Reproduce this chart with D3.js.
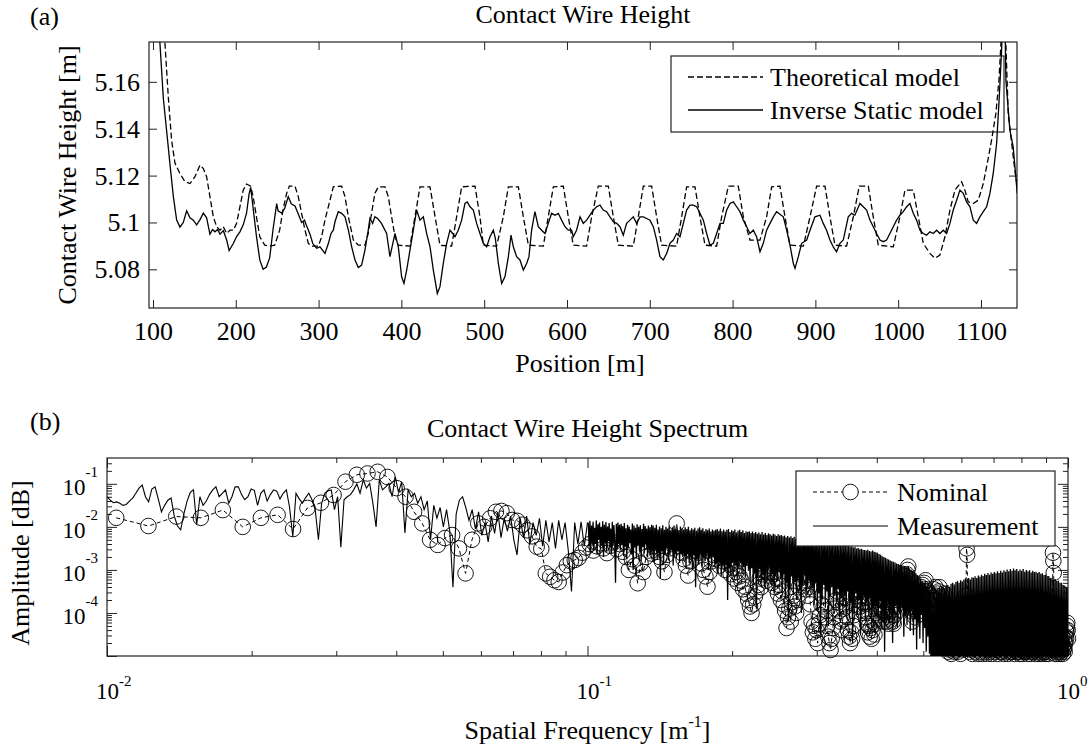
<!DOCTYPE html>
<html><head><meta charset="utf-8">
<script src="https://cdn.jsdelivr.net/npm/d3@7"></script>
<style>
body{margin:0;background:#fff}
svg{display:block}
text{font-family:"Liberation Serif","Times New Roman",serif;fill:#000}
</style>
</head><body>
<svg id="c" width="1090" height="753"></svg>
<script>
// ---------------- DATA: panel (a) ----------------
const positionTicks = [100,200,300,400,500,600,700,800,900,1000,1100];
const heightTicks = [5.08,5.10,5.12,5.14,5.16];
const heightTickLabels = ["5.08","5.1","5.12","5.14","5.16"];
const seriesA = ["Theoretical model","Inverse Static model"];

const theoreticalPos = [108,114.5,118.5,122.5,126.6,132.6,138.6,144.7,150.7,156.8,160.8,164.8,168.8,172.9,176.9,180.9,184.9,189,193,197,201,205,209,213,218,221,225,229,235,241,247,253,257,261.4,264.7,271.5,275.5,279.5,283.6,287.6,291.6,299.7,303.7,307.7,313.8,317.8,327.9,331.9,336,342,348,356,360,364,368,372.1,380.2,384.2,388.2,392.3,396.3,410.4,416.4,422.5,434.6,440.7,446.6,460.7,466.7,472.8,488.9,494.9,499,515,523.1,529.2,541.3,547.3,553.4,571.4,577.4,583.5,595.6,601.6,607.6,623.7,629.8,637.8,649.9,656,662,680.1,686.1,692.2,702.3,708.3,714.3,732.4,738.5,744.5,754.6,760.6,766.7,780.8,786.8,794.9,806.9,813,821,833.1,841.1,847.2,857.2,863.3,869.3,885.5,893.5,901.5,911.6,917.6,923.6,937.7,945.8,953,963.9,969.9,976,994.1,1002.1,1008.2,1018.2,1024.3,1030.3,1038.3,1044.4,1050.4,1056.5,1062.5,1068.6,1076.6,1080.6,1084.6,1090.7,1096.7,1102.8,1107.6,1112.8,1118,1121.7,1124.1,1126.1,1128.1,1132.9,1140.9,1143.8];
const theoreticalHeight = [5.215,5.1763,5.1536,5.1351,5.1252,5.1209,5.1174,5.1166,5.1195,5.1245,5.123,5.1195,5.111,5.1024,5.0982,5.0967,5.0982,5.0953,5.0967,5.0967,5.0996,5.1067,5.1138,5.1164,5.1155,5.111,5.1024,5.0939,5.0903,5.0899,5.0903,5.0967,5.1053,5.1124,5.1155,5.1155,5.111,5.1039,5.0967,5.0911,5.0899,5.0899,5.0939,5.101,5.1095,5.1152,5.1155,5.111,5.1024,5.0925,5.0903,5.0903,5.0953,5.1039,5.1124,5.1152,5.1152,5.111,5.1024,5.0939,5.0903,5.0899,5.1024,5.1152,5.1152,5.1024,5.0903,5.0899,5.1024,5.1152,5.1155,5.1024,5.0903,5.0899,5.1024,5.1152,5.1152,5.1024,5.0903,5.0899,5.1024,5.1152,5.1155,5.1024,5.0903,5.0899,5.1024,5.1155,5.1155,5.1024,5.0903,5.0899,5.1024,5.1155,5.1155,5.1024,5.0903,5.0899,5.1024,5.1152,5.1152,5.1024,5.0903,5.0899,5.1024,5.1155,5.1155,5.1024,5.0925,5.0925,5.1024,5.1152,5.1155,5.1024,5.0903,5.0899,5.1024,5.1155,5.1155,5.1024,5.0903,5.0899,5.1024,5.1155,5.1155,5.1024,5.0903,5.0896,5.1024,5.1138,5.1138,5.1024,5.0911,5.0868,5.0847,5.0861,5.0939,5.1053,5.1138,5.1174,5.1138,5.1088,5.1081,5.1095,5.1166,5.1252,5.1351,5.1465,5.1607,5.1763,5.1962,5.1962,5.1465,5.1223,5.1152];

const inversePos = [103,108.5,112.5,116.5,120.5,124.6,128.6,132.6,136.6,140.7,144.7,148.7,152.7,156.5,160.8,164.8,168.8,172,174.9,178,181,185,189,192,197,201,205,209,213,216,218,221,225,229,233,237,241,245,249.4,251,255.4,259,263.4,267,271.5,275,279.5,283,285,289.6,293,297.7,301.7,307.7,311.8,315,317.8,319.8,323.8,327.9,331.9,336,340,344,348,352,356,360,362,365.3,368,371.3,376,382.2,386.2,392.3,396.3,400.3,403.1,406.4,412.4,416.4,418.4,422.5,426.5,430.5,434.6,438.6,443.4,446.6,450.6,454.7,458.7,461.9,464.7,468.7,472.8,476.8,479.6,482.9,486.9,490.9,494.9,499,503,507,511,513.5,517.1,521.1,525.1,529.2,532.4,535.2,539.2,543.2,547.3,551.3,554.1,557.3,561.3,565.4,569.4,573.4,577.4,581.5,585.5,589.5,593.5,597.6,601.6,605.6,607.6,611.6,615.7,619.7,623.7,627.8,631.8,635.8,639.8,643.8,647.9,651.9,656,660,664,668,672,676,680.1,684.1,688.2,692.2,696.2,700.2,704.3,708.3,712.3,716.3,720.4,724.4,728.4,732.4,736.5,740.5,744.5,748.6,752.6,756.6,760.6,764.7,768.7,772.7,776.7,780.8,784.8,788.8,792.9,796.9,800.9,804.9,808.9,813,817,821,825,829,833.1,837.1,841.1,845.2,849.2,853.2,861.3,865.3,869.3,873.4,875.4,879.4,883.4,889.5,893.5,899.5,905.5,909.5,913.5,917.6,921.6,925.6,929.7,933.7,939.7,943.7,947.7,953.8,957.8,961.9,965.9,969.9,973.9,978,982,986,990,994.1,998.1,1002.1,1006.1,1010.2,1014.2,1018.2,1022.2,1026.3,1030.3,1034.3,1038.3,1042.4,1046.4,1050.4,1054.4,1058.5,1062.5,1066.5,1070.6,1074.6,1078.6,1082.6,1086.7,1090.7,1094.7,1098.7,1102.8,1106.8,1110.8,1114.8,1118.9,1122.1,1124.9,1126.9,1128.5,1130.1,1134.9,1138.9,1143.8];
const inverseHeight = [5.2,5.176,5.153,5.139,5.125,5.111,5.101,5.098,5.1,5.105,5.102,5.101,5.099,5.101,5.104,5.102,5.095,5.097,5.096,5.097,5.095,5.0965,5.0925,5.088,5.091,5.094,5.096,5.099,5.104,5.112,5.115,5.106,5.094,5.084,5.08,5.081,5.085,5.097,5.108,5.105,5.104,5.106,5.111,5.108,5.107,5.104,5.1,5.101,5.099,5.095,5.091,5.089,5.0896,5.0868,5.091,5.0953,5.0967,5.1003,5.1046,5.1039,5.1024,5.0967,5.0896,5.084,5.0808,5.0818,5.0882,5.0967,5.1017,5.0996,5.1024,5.1017,5.0996,5.0953,5.0854,5.0953,5.0896,5.0768,5.074,5.0797,5.0925,5.101,5.1053,5.101,5.1024,5.0953,5.0896,5.0797,5.0697,5.0726,5.0825,5.0911,5.0967,5.0953,5.0939,5.0967,5.101,5.1081,5.1088,5.1067,5.1053,5.0996,5.0953,5.0911,5.0896,5.0939,5.0967,5.0932,5.0825,5.074,5.0768,5.0854,5.0946,5.0896,5.0854,5.084,5.0797,5.0825,5.0854,5.0967,5.1046,5.0982,5.0967,5.0953,5.0996,5.1039,5.1031,5.1039,5.101,5.0982,5.0967,5.0967,5.0939,5.0967,5.1024,5.0996,5.101,5.1031,5.1053,5.1067,5.1074,5.1053,5.1046,5.1024,5.1003,5.0996,5.0982,5.0946,5.0996,5.101,5.1024,5.0996,5.1024,5.1024,5.1017,5.101,5.0982,5.0925,5.0854,5.084,5.0868,5.0911,5.0925,5.0953,5.0939,5.0996,5.1053,5.1074,5.1074,5.1067,5.1039,5.101,5.0953,5.0903,5.0911,5.0953,5.0996,5.0996,5.1053,5.1081,5.1088,5.1067,5.1046,5.101,5.0982,5.0953,5.0967,5.0939,5.0875,5.0911,5.0967,5.0996,5.1024,5.1046,5.1024,5.0967,5.0903,5.0825,5.0804,5.0854,5.0911,5.0925,5.0967,5.1024,5.1031,5.0996,5.0967,5.0925,5.0896,5.0875,5.0911,5.0925,5.1024,5.1039,5.1031,5.1081,5.1067,5.1053,5.101,5.0982,5.0953,5.0925,5.0918,5.0925,5.0953,5.0982,5.101,5.1031,5.1046,5.1067,5.1081,5.1039,5.101,5.0967,5.0953,5.0946,5.096,5.0953,5.0967,5.0953,5.0967,5.0953,5.0996,5.1053,5.1095,5.1138,5.1124,5.1088,5.1067,5.101,5.0996,5.1024,5.1046,5.1067,5.1124,5.1209,5.1337,5.1536,5.1735,5.196,5.196,5.1607,5.1394,5.1323,5.1124];

// ---------------- DATA: panel (b) ----------------
const freqMajorTicks = [0.01,0.1,1];
const ampMajorTicks = [1e-5,1e-4,1e-3,1e-2,1e-1];
const ampLabelled = [1e-4,1e-3,1e-2,1e-1];
const seriesB = ["Nominal","Measurement"];
const nominalFirstBin = 6;          // FFT bin index of first value
const binsPerUnitFreq = 574;        // bin k  ->  f = k / 574 [1/m]
// log10 of amplitude, one value per FFT bin (k = 6 ... 574)
const nominalLog10 = [
-1.79,-1.98,-1.76,-1.79,-1.61,-2.00,-1.79,-1.72,-2.05,-1.56,
-1.44,-1.26,-0.95,-0.79,-0.76,-0.72,-0.84,-1.10,-1.30,-1.65,
-1.92,-2.30,-2.42,-2.26,-2.19,-2.50,-3.08,-2.30,-1.92,-2.00,
-1.80,-1.65,-1.63,-1.68,-1.84,-1.86,-1.95,-2.08,-2.22,-2.46,
-2.51,-3.08,-3.16,-3.24,-3.28,-3.06,-2.89,-2.80,-2.77,-2.72,
-2.60,-2.48,-2.40,-2.55,-2.45,-2.38,-2.50,-2.61,-2.44,-2.36,
-2.52,-2.40,-2.58,-2.70,-3.00,-2.75,-2.90,-3.31,-2.85,-3.05,
-2.70,-2.55,-2.62,-2.45,-2.58,-2.70,-2.80,-3.05,-2.65,-2.50,
-2.40,-2.35,-1.92,-2.45,-2.60,-2.75,-2.90,-3.13,-2.80,-2.55,
-2.45,-2.40,-2.60,-2.85,-3.00,-3.15,-3.39,-3.05,-2.80,-2.65,
-2.75,-2.55,-2.90,-2.65,-2.80,-3.00,-2.70,-2.85,-3.10,-2.95,
-3.20,-3.05,-3.30,-3.15,-3.25,-3.45,-3.39,-3.55,-3.70,-3.85,
-4.00,-3.80,-3.62,-3.50,-3.35,-3.20,-3.40,-3.10,-3.00,-3.25,
-3.05,-2.90,-3.15,-3.30,-3.10,-3.40,-3.20,-3.55,-3.35,-3.70,
-3.50,-3.80,-3.95,-4.35,-4.10,-3.90,-4.20,-3.75,-3.60,-3.85,
-4.00,-3.70,-3.40,-3.20,-3.05,-3.30,-3.15,-3.45,-3.25,-3.60,
-3.40,-3.80,-4.20,-4.45,-4.30,-4.60,-4.40,-4.70,-4.25,-4.05,
-3.80,-3.60,-3.85,-4.10,-3.95,-4.30,-4.55,-4.70,-4.86,-4.60,
-4.35,-4.10,-3.90,-3.70,-3.50,-3.75,-3.95,-4.20,-4.40,-4.15,
-3.90,-3.65,-3.85,-4.10,-4.40,-4.55,-4.70,-4.45,-4.60,-4.30,
-4.05,-3.80,-3.60,-3.45,-3.70,-3.50,-3.85,-3.60,-3.95,-3.75,
-4.00,-3.80,-4.10,-4.25,-4.45,-4.30,-4.55,-4.35,-4.60,-4.40,
-4.20,-4.50,-4.25,-4.00,-3.80,-4.05,-3.85,-3.65,-3.90,-4.15,
-3.95,-4.20,-4.00,-3.75,-3.95,-4.20,-4.05,-4.25,-4.10,-3.90,
-4.15,-3.95,-4.20,-4.25,-4.05,-3.85,-3.60,-3.80,-3.55,-3.35,
-3.60,-3.40,-3.70,-3.50,-3.30,-3.55,-3.35,-3.15,-3.40,-3.10,
-3.00,-2.92,-3.20,-3.45,-3.70,-3.95,-4.20,-3.90,-3.65,-3.85,
-4.10,-3.80,-3.55,-3.75,-3.50,-3.70,-3.95,-3.60,-3.40,-3.60,
-3.35,-3.55,-3.30,-3.50,-3.24,-3.45,-3.65,-3.50,-3.75,-3.55,
-3.80,-3.60,-3.85,-3.70,-3.90,-3.65,-3.45,-3.70,-3.40,-3.60,
-3.85,-3.55,-3.75,-3.50,-3.40,-3.65,-3.85,-3.60,-3.80,-4.00,
-3.75,-3.55,-3.80,-4.05,-4.30,-4.55,-4.75,-4.90,-4.70,-4.85,
-4.60,-4.80,-4.95,-4.75,-4.55,-4.80,-4.65,-4.90,-4.70,-4.85,
-4.60,-4.45,-4.70,-4.90,-4.75,-4.55,-4.80,-4.95,-4.65,-4.40,
-4.60,-4.85,-4.70,-4.50,-4.30,-4.00,-3.60,-2.50,-2.65,-3.80,
-4.40,-4.75,-4.90,-4.70,-4.85,-4.60,-4.80,-4.95,-4.75,-4.55,
-4.80,-4.65,-4.90,-4.70,-4.85,-4.50,-4.75,-4.95,-4.80,-4.60,
-4.75,-4.90,-4.70,-4.55,-4.80,-4.95,-4.65,-4.85,-4.50,-4.70,
-4.90,-4.75,-4.60,-4.85,-4.95,-4.70,-4.45,-4.65,-4.85,-4.90,
-4.70,-4.55,-4.80,-4.95,-4.75,-4.60,-4.85,-4.70,-4.90,-4.80,
-4.55,-4.35,-4.60,-4.85,-4.95,-4.70,-4.80,-4.60,-4.90,-4.75,
-4.50,-4.70,-4.90,-4.80,-4.65,-4.85,-4.95,-4.70,-4.55,-4.80,
-4.90,-4.65,-4.45,-4.70,-4.85,-4.95,-4.75,-4.60,-4.80,-4.90,
-4.70,-4.50,-4.25,-4.55,-4.80,-4.90,-4.70,-4.85,-4.95,-4.75,
-4.60,-4.80,-4.90,-4.65,-4.85,-4.70,-4.55,-4.75,-4.90,-4.95,
-4.80,-4.60,-4.40,-4.65,-4.85,-4.95,-4.70,-4.80,-4.90,-4.60,
-4.75,-4.90,-4.85,-4.65,-4.50,-4.70,-4.90,-4.95,-4.80,-4.60,
-4.85,-4.70,-4.55,-4.80,-4.95,-4.90,-4.70,-4.85,-4.60,-4.75,
-4.90,-4.80,-4.65,-4.45,-4.70,-4.85,-4.95,-4.75,-4.60,-4.80,
-4.90,-4.70,-4.85,-4.95,-4.80,-4.55,-4.35,-4.60,-4.80,-4.90,
-4.75,-4.95,-4.85,-4.65,-4.80,-4.90,-4.70,-4.55,-4.75,-4.90,
-4.95,-4.80,-4.60,-4.85,-4.70,-4.90,-4.95,-4.75,-4.55,-4.30,
-4.10,-4.40,-4.70,-4.85,-4.60,-4.40,-4.10,-3.80,-2.60,-2.79,
-3.07,-4.20,-4.60,-4.85,-4.95,-4.70,-4.80,-4.90,-4.65,-4.85,
-4.95,-4.75,-4.60,-4.80,-4.90,-4.70,-4.85,-4.95,-4.65,-4.80,
-4.90,-4.70,-4.55,-4.80,-4.95,-4.75,-4.85,-4.60,-4.80,-4.90,
-4.70,-4.55,-4.40,-4.60,-4.45,-4.30,-4.23,-4.40,-4.60];
// measurement, log10 amplitude; low band sampled at f = 10^(-2 + i/150), i = 0..150
const measLowLog10 = [
-1.30,-1.38,-1.44,-1.42,-1.45,-1.50,-1.48,-1.40,-1.33,-1.22,
-1.10,-1.03,-1.30,-1.42,-1.12,-1.07,-1.35,-1.65,-1.50,-1.38,
-1.33,-1.75,-1.98,-2.07,-1.70,-1.40,-1.20,-1.14,-1.95,-1.30,
-1.50,-1.40,-1.25,-1.14,-1.07,-1.30,-1.22,-1.14,-1.45,-1.30,
-1.07,-1.07,-1.25,-1.37,-1.30,-1.12,-1.15,-1.50,-1.22,-1.14,
-1.40,-1.25,-1.14,-1.17,-1.35,-1.22,-1.14,-1.55,-2.23,-1.22,
-1.35,-1.45,-1.32,-1.22,-1.37,-1.60,-2.30,-1.45,-1.22,-1.16,
-1.14,-1.60,-1.30,-2.47,-1.37,-1.30,-1.25,-1.14,-1.00,-1.22,
-0.91,-1.10,-0.99,-1.45,-2.00,-0.91,-1.14,-1.07,-0.99,-1.30,
-0.84,-1.20,-0.95,-2.14,-1.14,-1.30,-1.22,-1.45,-1.30,-1.60,
-1.40,-2.30,-1.50,-1.80,-1.55,-2.00,-1.60,-2.10,-3.40,-1.70,
-1.38,-1.30,-1.55,-1.85,-1.60,-2.05,-1.65,-2.20,-1.90,-2.35,
-1.75,-2.15,-1.65,-2.25,-1.80,-2.10,-1.75,-2.30,-2.65,-1.80,
-2.25,-1.75,-2.40,-1.90,-2.20,-1.80,-2.45,-1.85,-2.35,-1.90,
-2.50,-1.85,-2.30,-1.90,-2.55,-3.50,-1.90,-2.40,-1.88,-2.45,
-1.90];
// measurement, log10 amplitude; high band sampled at f = 10^(-1 + (i+1)/600), i = 0..599
const measHighLog10 = [
-1.92,-2.45,-1.86,-2.60,-1.97,-2.35,-1.88,-2.55,-2.02,-2.40,-1.85,-2.65,-1.94,-2.30,-1.90,-2.50,-2.00,-2.42,-1.87,-2.70,
-1.95,-2.38,-1.89,-2.58,-1.99,-2.33,-1.91,-2.48,-2.04,-2.62,-1.88,-2.44,-1.96,-2.36,-3.30,-1.93,-2.52,-1.90,-2.40,-1.95,
-2.55,-1.93,-2.42,-1.98,-2.68,-1.91,-2.46,-2.03,-2.75,-1.95,-2.50,-1.99,-2.38,-2.06,-2.64,-1.92,-3.00,-1.97,-2.48,-2.02,
-2.72,-1.94,-2.44,-2.00,-2.58,-1.96,-2.80,-2.05,-2.47,-1.93,-2.62,-1.98,-2.41,-2.04,-2.70,-1.97,-2.53,-2.01,-2.66,-1.95,
-2.58,-1.97,-2.82,-2.02,-2.52,-1.95,-2.74,-2.06,-2.61,-1.99,-3.20,-2.03,-2.56,-1.96,-2.86,-2.07,-2.64,-2.00,-2.50,-2.04,
-2.78,-1.98,-2.66,-2.08,-2.55,-2.01,-2.90,-1.97,-2.60,-2.05,-2.72,-2.02,-2.57,-2.09,-2.84,-1.99,-2.62,-2.04,-2.70,-2.06,
-2.68,-2.01,-2.92,-2.05,-2.63,-2.00,-2.84,-2.08,-2.70,-2.03,-2.98,-2.06,-2.66,-2.02,-3.40,-2.09,-2.75,-2.04,-2.88,-2.01,
-2.65,-2.07,-2.95,-2.03,-2.72,-2.10,-2.80,-2.05,-2.62,-2.08,-3.00,-2.04,-2.74,-2.11,-2.86,-2.06,-2.69,-2.09,-2.93,-2.07,
-2.86,-2.05,-3.08,-2.09,-2.82,-2.04,-3.15,-2.10,-2.92,-2.06,-3.02,-2.11,-2.88,-2.07,-3.70,-2.05,-2.96,-2.12,-3.12,-2.08,
-2.84,-2.10,-3.05,-2.06,-2.90,-2.13,-3.20,-2.09,-2.98,-2.07,-2.85,-2.12,-3.10,-2.08,-2.94,-2.14,-3.18,-2.10,-2.91,-2.12,
-3.02,-2.10,-3.28,-2.14,-2.96,-2.11,-3.35,-2.15,-3.08,-2.12,-3.90,-2.16,-3.18,-2.13,-2.98,-2.17,-3.30,-2.12,-3.12,-2.18,
-3.40,-2.14,-3.05,-2.19,-3.22,-2.15,-2.95,-2.17,-3.32,-2.20,-3.10,-2.16,-3.55,-2.18,-3.15,-2.21,-3.26,-2.17,-3.06,-2.20,
-3.22,-2.19,-3.52,-2.22,-3.10,-2.20,-3.65,-2.24,-3.30,-2.21,-4.20,-2.25,-3.45,-2.22,-3.15,-2.26,-3.58,-2.23,-3.28,-2.27,
-3.70,-2.24,-3.20,-2.28,-3.48,-2.25,-4.00,-2.27,-3.36,-2.29,-3.12,-2.26,-3.62,-2.30,-3.40,-2.27,-3.25,-2.31,-3.55,-2.29,
-3.42,-2.29,-3.82,-2.32,-3.30,-2.30,-3.95,-2.34,-3.55,-2.31,-4.50,-2.35,-3.68,-2.33,-3.35,-2.36,-3.88,-2.34,-3.50,-2.37,
-4.30,-2.35,-3.62,-2.38,-3.40,-2.36,-3.92,-2.39,-3.58,-2.37,-3.78,-2.40,-3.45,-2.38,-4.10,-2.41,-3.66,-2.39,-3.85,-2.42,
-3.62,-2.41,-4.02,-2.44,-3.50,-2.43,-4.12,-2.46,-3.75,-2.45,-4.70,-2.48,-3.88,-2.47,-3.55,-2.50,-4.05,-2.49,-3.70,-2.52,
-4.50,-2.51,-3.82,-2.53,-3.60,-2.54,-4.15,-2.55,-3.78,-2.53,-3.98,-2.56,-3.66,-2.57,-4.35,-2.55,-3.90,-2.58,-4.08,-2.59,
-3.85,-2.60,-4.22,-2.63,-3.72,-2.65,-4.30,-2.68,-3.95,-2.70,-4.90,-2.72,-4.05,-2.74,-3.78,-2.76,-4.25,-2.78,-3.90,-2.80,
-4.70,-2.81,-4.02,-2.83,-3.82,-2.85,-4.35,-2.86,-3.98,-2.88,-4.15,-2.89,-3.88,-2.90,-4.55,-2.91,-4.08,-2.93,-4.28,-2.94,
-4.02,-2.96,-4.42,-2.99,-3.92,-3.02,-4.52,-3.05,-4.15,-3.08,-4.85,-3.12,-4.25,-3.16,-4.60,-3.20,-4.05,-3.25,-4.70,-3.30,
-4.35,-3.36,-4.90,-3.42,-4.55,-3.48,-4.95,-3.55,-5.50,-3.65,-5.50,-3.75,-5.50,-3.70,-5.50,-3.60,-5.50,-3.50,-5.50,-3.46,
-5.50,-3.44,-5.40,-3.40,-5.50,-3.43,-5.30,-3.37,-5.50,-3.35,-5.45,-3.39,-5.50,-3.32,-5.35,-3.30,-5.50,-3.34,-5.40,-3.28,
-5.50,-3.26,-5.30,-3.30,-5.50,-3.24,-5.45,-3.27,-5.50,-3.22,-5.35,-3.20,-5.50,-3.25,-5.40,-3.19,-5.50,-3.22,-5.30,-3.17,
-5.50,-3.18,-5.40,-3.15,-5.50,-3.19,-5.30,-3.13,-5.50,-3.16,-5.45,-3.11,-5.50,-3.14,-5.35,-3.09,-5.50,-3.12,-5.40,-3.07,
-5.50,-3.11,-5.30,-3.06,-5.50,-3.09,-5.45,-3.05,-5.50,-3.08,-5.35,-3.03,-5.50,-3.07,-5.40,-3.02,-5.50,-3.06,-5.30,-3.01,
-5.50,-3.04,-5.40,-2.99,-5.50,-3.03,-5.30,-2.98,-5.50,-3.02,-5.45,-2.97,-5.50,-3.01,-5.35,-2.98,-5.50,-3.03,-5.40,-2.99,
-5.50,-3.02,-5.30,-2.98,-5.50,-3.04,-5.45,-3.00,-5.50,-3.03,-5.35,-3.01,-5.50,-3.06,-5.40,-3.02,-5.50,-3.05,-5.30,-3.04,
-5.50,-3.07,-5.40,-3.05,-5.50,-3.09,-5.30,-3.08,-5.50,-3.12,-5.45,-3.11,-5.50,-3.15,-5.35,-3.14,-5.50,-3.19,-5.40,-3.18,
-5.50,-3.22,-5.30,-3.21,-5.50,-3.26,-5.45,-3.25,-5.50,-3.30,-5.35,-3.30,-5.50,-3.35,-5.40,-3.36,-5.50,-3.40,-5.30,-3.42];

// ---------------- DRAWING ----------------
const FONT = '"Liberation Serif","Times New Roman",serif';
const AXC = '#222';
const svg = d3.select('#c');
svg.append('rect').attr('width',1090).attr('height',753).attr('fill','#fff');

// ===== Panel (a) =====
const A = {l:149, r:1017, t:42, b:308};
const xA = d3.scaleLinear().domain([95.2,1143.5]).range([A.l,A.r]);
const yA = d3.scaleLinear().domain([5.0635,5.177]).range([A.b,A.t]);

svg.append('clipPath').attr('id','clipA').append('rect')
  .attr('x',A.l).attr('y',A.t).attr('width',A.r-A.l).attr('height',A.b-A.t);

function styleAxis(g, fs){
  g.attr('font-family',FONT).attr('font-size',fs);
  g.select('.domain').remove();
  g.selectAll('.tick line').attr('stroke',AXC).attr('stroke-width',1);
  g.selectAll('.tick text').attr('fill','#000');
}

const gxA = svg.append('g').attr('transform',`translate(0,${A.b})`)
  .call(d3.axisBottom(xA).tickValues(positionTicks).tickSize(-8).tickPadding(13.5).tickFormat(d3.format('d')));
styleAxis(gxA,26);
const gxA2 = svg.append('g').attr('transform',`translate(0,${A.t})`)
  .call(d3.axisTop(xA).tickValues(positionTicks).tickSize(-8).tickFormat(''));
styleAxis(gxA2,26);
const gyA = svg.append('g').attr('transform',`translate(${A.l},0)`)
  .call(d3.axisLeft(yA).tickValues(heightTicks).tickSize(-8).tickPadding(9).tickFormat((d,i)=>heightTickLabels[i]));
styleAxis(gyA,26);
gyA.selectAll('.tick text').attr('dy',null).attr('dominant-baseline','central');
const gyA2 = svg.append('g').attr('transform',`translate(${A.r},0)`)
  .call(d3.axisRight(yA).tickValues(heightTicks).tickSize(-8).tickFormat(''));
styleAxis(gyA2,26);

svg.append('rect').attr('x',A.l).attr('y',A.t).attr('width',A.r-A.l).attr('height',A.b-A.t)
  .attr('fill','none').attr('stroke',AXC).attr('stroke-width',1.2);

// legend (a)
const LA = svg.append('g');
LA.append('rect').attr('x',671).attr('y',56).attr('width',333).attr('height',76)
  .attr('fill','#fff').attr('stroke',AXC).attr('stroke-width',1.2);
[[77,'6,3'],[110,null]].forEach(([y,dash],i)=>{
  LA.append('line').attr('x1',688).attr('x2',763).attr('y1',y).attr('y2',y)
    .attr('stroke','#000').attr('stroke-width',1.3).attr('stroke-dasharray',dash);
  LA.append('text').attr('x',770).attr('y',y+9).attr('font-size',26).text(seriesA[i]);
});

const lineA = d3.line().x(d=>xA(d[0])).y(d=>yA(d[1]));
const gA = svg.append('g').attr('clip-path','url(#clipA)');
gA.append('path').datum(theoreticalPos.map((p,i)=>[p,theoreticalHeight[i]]))
  .attr('d',lineA).attr('fill','none').attr('stroke','#000').attr('stroke-width',1.3).attr('stroke-dasharray','6,3');
gA.append('path').datum(inversePos.map((p,i)=>[p,inverseHeight[i]]))
  .attr('d',lineA).attr('fill','none').attr('stroke','#000').attr('stroke-width',1.3);

svg.append('text').attr('x',30).attr('y',25).attr('font-size',26).text('(a)');
svg.append('text').attr('x',(A.l+A.r)/2).attr('y',23).attr('text-anchor','middle').attr('font-size',26).text('Contact Wire Height');
svg.append('text').attr('x',(A.l+A.r)/2 - 3).attr('y',372).attr('text-anchor','middle').attr('font-size',26).text('Position [m]');
svg.append('text').attr('transform',`translate(76,${(A.t+A.b)/2}) rotate(-90)`).attr('text-anchor','middle').attr('font-size',26).text('Contact Wire Height [m]');

// ===== Panel (b) =====
const B = {l:107, r:1068, t:458, b:656};
const xB = d3.scaleLog().domain([0.01,1]).range([B.l,B.r]);
const yB = d3.scaleLog().domain([1e-5,Math.pow(10,-0.4)]).range([B.b,B.t]);

svg.append('clipPath').attr('id','clipB').append('rect')
  .attr('x',B.l).attr('y',B.t).attr('width',B.r-B.l).attr('height',B.b-B.t);

const freqMinor = [];
[0.01,0.1].forEach(dec=>{ for(let m=2;m<=9;m++) freqMinor.push(m*dec); });
const ampMinor = [];
[1e-5,1e-4,1e-3,1e-2,1e-1].forEach(dec=>{ for(let m=2;m<=9;m++){ const v=m*dec; if(v<=yB.domain()[1]) ampMinor.push(v);} });

// minor ticks
[[d3.axisBottom,B.b],[d3.axisTop,B.t]].forEach(([ax,pos])=>{
  const g = svg.append('g').attr('transform',`translate(0,${pos})`).call(ax(xB).tickValues(freqMinor).tickSize(-5).tickFormat(''));
  styleAxis(g,23);
});
[[d3.axisLeft,B.l],[d3.axisRight,B.r]].forEach(([ax,pos])=>{
  const g = svg.append('g').attr('transform',`translate(${pos},0)`).call(ax(yB).tickValues(ampMinor).tickSize(-5).tickFormat(''));
  styleAxis(g,23);
});
// major ticks
const gxB = svg.append('g').attr('transform',`translate(0,${B.b})`)
  .call(d3.axisBottom(xB).tickValues(freqMajorTicks).tickSize(-10).tickPadding(26.5).tickFormat(''));
styleAxis(gxB,23);
gxB.selectAll('.tick text').each(function(d){
  const t = d3.select(this).attr('text-anchor','start').attr('x',-11.5);
  t.append('tspan').text('10');
  t.append('tspan').attr('font-size',15).attr('dy',-13).text(String(Math.round(Math.log10(d))));
});
const gxB2 = svg.append('g').attr('transform',`translate(0,${B.t})`)
  .call(d3.axisTop(xB).tickValues(freqMajorTicks).tickSize(-10).tickFormat(''));
styleAxis(gxB2,23);
const gyB = svg.append('g').attr('transform',`translate(${B.l},0)`)
  .call(d3.axisLeft(yB).tickValues(ampMajorTicks).tickSize(-10).tickPadding(9).tickFormat(''));
styleAxis(gyB,23);
gyB.selectAll('.tick text').each(function(d){
  if(!ampLabelled.includes(d)) return;
  const t = d3.select(this).attr('dy',null).attr('y',11);
  t.append('tspan').text('10');
  t.append('tspan').attr('font-size',15).attr('dy',-18).text(String(Math.round(Math.log10(d))));
});
const gyB2 = svg.append('g').attr('transform',`translate(${B.r},0)`)
  .call(d3.axisRight(yB).tickValues(ampMajorTicks).tickSize(-10).tickFormat(''));
styleAxis(gyB2,23);

svg.append('rect').attr('x',B.l).attr('y',B.t).attr('width',B.r-B.l).attr('height',B.b-B.t)
  .attr('fill','none').attr('stroke',AXC).attr('stroke-width',1.2);

// series
const nominal = nominalLog10.map((v,i)=>({f:(nominalFirstBin+i)/binsPerUnitFreq, a:Math.pow(10,v)}));
const nLow = measLowLog10.length, nHigh = measHighLog10.length;
const measLow = measLowLog10.map((v,i)=>({f:Math.pow(10,-2+i/(nLow-1)), a:Math.pow(10,v)}));
const measHigh = [measLow[nLow-1]].concat(measHighLog10.map((v,i)=>({f:Math.pow(10,-1+(i+1)/nHigh), a:Math.pow(10,v)})));

const lineB = d3.line().x(d=>xB(d.f)).y(d=>yB(d.a));
svg.append('g').attr('clip-path','url(#clipB)').append('path').datum(nominal)
  .attr('d',lineB).attr('fill','none').attr('stroke','#000').attr('stroke-width',1).attr('stroke-dasharray','4,3');
svg.append('g').selectAll('circle').data(nominal).join('circle')
  .attr('cx',d=>xB(d.f)).attr('cy',d=>yB(d.a)).attr('r',7.8)
  .attr('fill','none').attr('stroke','#000').attr('stroke-width',0.9);
const gM = svg.append('g').attr('clip-path','url(#clipB)');
gM.append('path').datum(measLow)
  .attr('d',lineB).attr('fill','none').attr('stroke','#000').attr('stroke-width',1.1);
gM.append('path').datum(measHigh)
  .attr('d',lineB).attr('fill','none').attr('stroke','#000').attr('stroke-width',1.3).attr('stroke-linejoin','bevel');

// legend (b)
const LB = svg.append('g');
LB.append('rect').attr('x',796).attr('y',471).attr('width',259).attr('height',75)
  .attr('fill','#fff').attr('stroke',AXC).attr('stroke-width',1.2);
LB.append('line').attr('x1',813).attr('x2',888).attr('y1',492).attr('y2',492)
  .attr('stroke','#000').attr('stroke-width',1).attr('stroke-dasharray','4,3');
LB.append('circle').attr('cx',850.5).attr('cy',492).attr('r',7.8).attr('fill','#fff').attr('stroke','#000').attr('stroke-width',0.9);
LB.append('line').attr('x1',813).attr('x2',888).attr('y1',526).attr('y2',526).attr('stroke','#000').attr('stroke-width',1.2);
LB.append('text').attr('x',897).attr('y',501).attr('font-size',26).text(seriesB[0]);
LB.append('text').attr('x',897).attr('y',535).attr('font-size',26).text(seriesB[1]);

svg.append('text').attr('x',30).attr('y',430).attr('font-size',26).text('(b)');
svg.append('text').attr('x',(B.l+B.r)/2).attr('y',437).attr('text-anchor','middle').attr('font-size',26).text('Contact Wire Height Spectrum');
const xl = svg.append('text').attr('x',(B.l+B.r)/2).attr('y',739).attr('text-anchor','middle').attr('font-size',26);
xl.append('tspan').text('Spatial Frequency [m');
xl.append('tspan').attr('font-size',16).attr('dy',-12).text('-1');
xl.append('tspan').attr('dy',12).text(']');
svg.append('text').attr('transform',`translate(29,563) rotate(-90)`).attr('text-anchor','middle').attr('font-size',26).text('Amplitude [dB]');
</script>
</body></html>
